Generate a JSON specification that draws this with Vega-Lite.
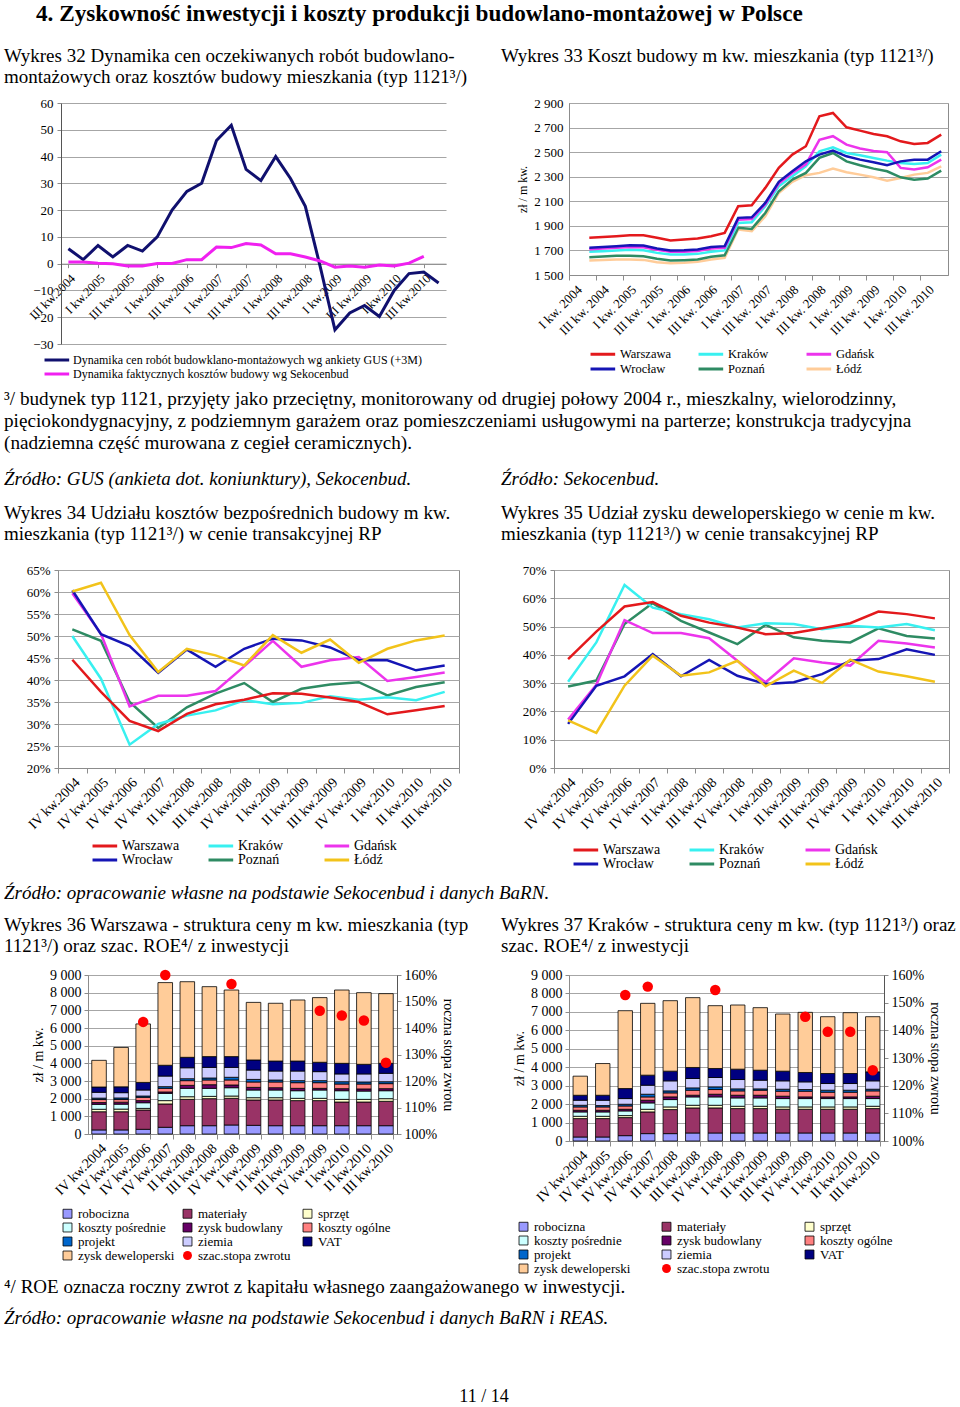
{
"$schema": "https://vega.github.io/schema/vega-lite/v6.json",
"padding": {"left": 3, "top": 2, "right": 5, "bottom": 5},
"background": "white",
"config": {
  "font": "Liberation Serif",
  "view": {"stroke": "#8c8c8c"},
  "axis": {"labelFont": "Liberation Serif", "titleFont": "Liberation Serif", "labelColor": "#000", "titleColor": "#000", "titleFontWeight": "normal", "gridColor": "#a6a6a6", "domainColor": "#8c8c8c", "tickColor": "#8c8c8c", "labelFontSize": 13, "titleFontSize": 13},
  "legend": {"labelFont": "Liberation Serif", "labelColor": "#000", "labelFontSize": 13},
  "title": {"font": "Liberation Serif", "fontSize": 19, "fontWeight": "normal", "color": "#000", "anchor": "start", "frame": "group", "lineHeight": 21, "subtitleFont": "Liberation Serif", "subtitleFontSize": 19, "subtitleColor": "#000", "subtitleLineHeight": 21},
  "text": {"font": "Liberation Serif"}
},
"datasets": {
  "comps": [{"c": "robocizna", "k": 1}, {"c": "materiały", "k": 2}, {"c": "sprzęt", "k": 3}, {"c": "koszty pośrednie", "k": 4}, {"c": "zysk budowlany", "k": 5}, {"c": "koszty ogólne", "k": 6}, {"c": "projekt", "k": 7}, {"c": "ziemia", "k": 8}, {"c": "VAT", "k": 9}, {"c": "zysk deweloperski", "k": 10}],
  "b36": [
    {"q": "IV kw.2004", "robocizna": 230, "materiały": 1030, "sprzęt": 140, "koszty pośrednie": 280, "zysk budowlany": 100, "koszty ogólne": 170, "projekt": 80, "ziemia": 330, "VAT": 300, "zysk deweloperski": 1510},
    {"q": "IV kw.2005", "robocizna": 230, "materiały": 1030, "sprzęt": 150, "koszty pośrednie": 280, "zysk budowlany": 110, "koszty ogólne": 150, "projekt": 90, "ziemia": 300, "VAT": 330, "zysk deweloperski": 2230},
    {"q": "IV kw.2006", "robocizna": 265, "materiały": 1095, "sprzęt": 90, "koszty pośrednie": 320, "zysk budowlany": 120, "koszty ogólne": 185, "projekt": 75, "ziemia": 340, "VAT": 430, "zysk deweloperski": 3310},
    {"q": "IV kw.2007", "robocizna": 380, "materiały": 1320, "sprzęt": 190, "koszty pośrednie": 410, "zysk budowlany": 80, "koszty ogólne": 205, "projekt": 95, "ziemia": 600, "VAT": 610, "zysk deweloperski": 4680},
    {"q": "II kw.2008", "robocizna": 470, "materiały": 1490, "sprzęt": 150, "koszty pośrednie": 475, "zysk budowlany": 170, "koszty ogólne": 265, "projekt": 110, "ziemia": 620, "VAT": 590, "zysk deweloperski": 4280},
    {"q": "III kw.2008", "robocizna": 470, "materiały": 1530, "sprzęt": 130, "koszty pośrednie": 455, "zysk budowlany": 205, "koszty ogólne": 270, "projekt": 110, "ziemia": 600, "VAT": 610, "zysk deweloperski": 3960},
    {"q": "IV kw.2008", "robocizna": 510, "materiały": 1510, "sprzęt": 130, "koszty pośrednie": 470, "zysk budowlany": 155, "koszty ogólne": 285, "projekt": 150, "ziemia": 560, "VAT": 610, "zysk deweloperski": 3770},
    {"q": "I kw.2009", "robocizna": 490, "materiały": 1435, "sprzęt": 130, "koszty pośrednie": 435, "zysk budowlany": 150, "koszty ogólne": 305, "projekt": 145, "ziemia": 530, "VAT": 570, "zysk deweloperski": 3260},
    {"q": "II kw.2009", "robocizna": 470, "materiały": 1455, "sprzęt": 130, "koszty pośrednie": 435, "zysk budowlany": 130, "koszty ogólne": 325, "projekt": 110, "ziemia": 510, "VAT": 565, "zysk deweloperski": 3270},
    {"q": "III kw.2009", "robocizna": 470, "materiały": 1420, "sprzęt": 130, "koszty pośrednie": 430, "zysk budowlany": 135, "koszty ogólne": 320, "projekt": 115, "ziemia": 545, "VAT": 565, "zysk deweloperski": 3455},
    {"q": "IV kw.2009", "robocizna": 470, "materiały": 1420, "sprzęt": 130, "koszty pośrednie": 470, "zysk budowlany": 95, "koszty ogólne": 320, "projekt": 115, "ziemia": 510, "VAT": 530, "zysk deweloperski": 3660},
    {"q": "I kw.2010", "robocizna": 470, "materiały": 1340, "sprzęt": 150, "koszty pośrednie": 490, "zysk budowlany": 115, "koszty ogólne": 265, "projekt": 130, "ziemia": 440, "VAT": 600, "zysk deweloperski": 4150},
    {"q": "II kw.2010", "robocizna": 470, "materiały": 1340, "sprzęt": 150, "koszty pośrednie": 470, "zysk budowlany": 120, "koszty ogólne": 280, "projekt": 115, "ziemia": 455, "VAT": 545, "zysk deweloperski": 4055},
    {"q": "III kw.2010", "robocizna": 470, "materiały": 1380, "sprzęt": 150, "koszty pośrednie": 450, "zysk budowlany": 115, "koszty ogólne": 285, "projekt": 110, "ziemia": 475, "VAT": 565, "zysk deweloperski": 3945}
  ],
  "r36": [
    {"q": "IV kw.2006", "roe": 142.3, "c": "szac.stopa zwrotu"},
    {"q": "IV kw.2007", "roe": 160, "c": "szac.stopa zwrotu"},
    {"q": "IV kw.2008", "roe": 156.6, "c": "szac.stopa zwrotu"},
    {"q": "IV kw.2009", "roe": 146.5, "c": "szac.stopa zwrotu"},
    {"q": "I kw.2010", "roe": 144.7, "c": "szac.stopa zwrotu"},
    {"q": "II kw.2010", "roe": 142.8, "c": "szac.stopa zwrotu"},
    {"q": "III kw.2010", "roe": 126.9, "c": "szac.stopa zwrotu"}
  ],
  "b37": [
    {"q": "IV kw.2004", "robocizna": 217, "materiały": 997, "sprzęt": 126, "koszty pośrednie": 236, "zysk budowlany": 91, "koszty ogólne": 181, "projekt": 90, "ziemia": 272, "VAT": 270, "zysk deweloperski": 1035},
    {"q": "IV kw.2005", "robocizna": 217, "materiały": 997, "sprzęt": 126, "koszty pośrednie": 236, "zysk budowlany": 91, "koszty ogólne": 181, "projekt": 72, "ziemia": 290, "VAT": 270, "zysk deweloperski": 1720},
    {"q": "IV kw.2006", "robocizna": 290, "materiały": 978, "sprzęt": 109, "koszty pośrednie": 253, "zysk budowlany": 90, "koszty ogólne": 180, "projekt": 93, "ziemia": 307, "VAT": 544, "zysk deweloperski": 4221},
    {"q": "IV kw.2007", "robocizna": 400, "materiały": 1176, "sprzęt": 144, "koszty pośrednie": 345, "zysk budowlany": 145, "koszty ogólne": 181, "projekt": 145, "ziemia": 489, "VAT": 544, "zysk deweloperski": 3895},
    {"q": "II kw.2008", "robocizna": 400, "materiały": 1303, "sprzęt": 145, "koszty pośrednie": 398, "zysk budowlany": 145, "koszty ogólne": 218, "projekt": 108, "ziemia": 544, "VAT": 525, "zysk deweloperski": 3822},
    {"q": "III kw.2008", "robocizna": 435, "materiały": 1358, "sprzęt": 145, "koszty pośrednie": 453, "zysk budowlany": 91, "koszty ogólne": 272, "projekt": 126, "ziemia": 508, "VAT": 598, "zysk deweloperski": 3786},
    {"q": "IV kw.2008", "robocizna": 435, "materiały": 1358, "sprzęt": 145, "koszty pośrednie": 453, "zysk budowlany": 145, "koszty ogólne": 254, "projekt": 145, "ziemia": 507, "VAT": 489, "zysk deweloperski": 3406},
    {"q": "I kw.2009", "robocizna": 435, "materiały": 1322, "sprzęt": 127, "koszty pośrednie": 453, "zysk budowlany": 145, "koszty ogólne": 235, "projekt": 109, "ziemia": 507, "VAT": 562, "zysk deweloperski": 3478},
    {"q": "II kw.2009", "robocizna": 435, "materiały": 1322, "sprzęt": 127, "koszty pośrednie": 453, "zysk budowlany": 145, "koszty ogólne": 272, "projekt": 72, "ziemia": 471, "VAT": 543, "zysk deweloperski": 3388},
    {"q": "III kw.2009", "robocizna": 435, "materiały": 1286, "sprzęt": 127, "koszty pośrednie": 452, "zysk budowlany": 128, "koszty ogólne": 272, "projekt": 108, "ziemia": 453, "VAT": 525, "zysk deweloperski": 3098},
    {"q": "IV kw.2009", "robocizna": 435, "materiały": 1286, "sprzęt": 127, "koszty pośrednie": 452, "zysk budowlany": 91, "koszty ogólne": 309, "projekt": 90, "ziemia": 416, "VAT": 508, "zysk deweloperski": 3261},
    {"q": "I kw.2010", "robocizna": 435, "materiały": 1286, "sprzęt": 127, "koszty pośrednie": 452, "zysk budowlany": 91, "koszty ogólne": 254, "projekt": 109, "ziemia": 362, "VAT": 543, "zysk deweloperski": 3080},
    {"q": "II kw.2010", "robocizna": 435, "materiały": 1286, "sprzęt": 127, "koszty pośrednie": 452, "zysk budowlany": 91, "koszty ogólne": 254, "projekt": 109, "ziemia": 362, "VAT": 543, "zysk deweloperski": 3298},
    {"q": "III kw.2010", "robocizna": 435, "materiały": 1322, "sprzęt": 127, "koszty pośrednie": 416, "zysk budowlany": 128, "koszty ogólne": 289, "projekt": 91, "ziemia": 453, "VAT": 489, "zysk deweloperski": 2989}
  ],
  "r37": [
    {"q": "IV kw.2006", "roe": 152.8, "c": "szac.stopa zwrotu"},
    {"q": "IV kw.2007", "roe": 155.8, "c": "szac.stopa zwrotu"},
    {"q": "IV kw.2008", "roe": 154.6, "c": "szac.stopa zwrotu"},
    {"q": "IV kw.2009", "roe": 144.9, "c": "szac.stopa zwrotu"},
    {"q": "I kw.2010", "roe": 139.5, "c": "szac.stopa zwrotu"},
    {"q": "II kw.2010", "roe": 139.5, "c": "szac.stopa zwrotu"},
    {"q": "III kw.2010", "roe": 125.6, "c": "szac.stopa zwrotu"}
  ]
},
"title": {"text": "4.  Zyskowność inwestycji i koszty produkcji budowlano-montażowej w Polsce", "fontSize": 23.2, "fontWeight": "bold", "dx": -22, "offset": 20},
"bounds": "flush",
"spacing": 467,
"resolve": {"scale": {"color": "independent"}},
"vconcat": [
  {
    "bounds": "flush", "spacing": 0,
    "resolve": {"scale": {"color": "independent"}},
    "hconcat": [
      {"width": 3, "height": 1, "view": {"stroke": null}, "data": {"values": [{"a": 1}]}, "mark": {"type": "point", "opacity": 0}, "encoding": {}},
      {
        "width": 385, "height": 241,
        "view": {"stroke": null},
        "title": {"text": ["Wykres 32 Dynamika cen oczekiwanych robót budowlano-", "montażowych oraz kosztów budowy mieszkania (typ 1121³/)"], "dx": -57, "offset": 10},
        "data": {"values": [
          {"q": "III kw.2004", "GUS": 5.6, "Seko": 0.6},
          {"q": "IV kw.2004", "GUS": 1.5, "Seko": 0.6},
          {"q": "I kw.2005", "GUS": 6.8, "Seko": 0.2},
          {"q": "II kw.2005", "GUS": 2.5, "Seko": 0},
          {"q": "III kw.2005", "GUS": 6.8, "Seko": -0.9},
          {"q": "IV kw.2005", "GUS": 4.7, "Seko": -0.9},
          {"q": "I kw.2006", "GUS": 10, "Seko": 0.1},
          {"q": "II kw.2006", "GUS": 20, "Seko": 0.1},
          {"q": "III kw.2006", "GUS": 27, "Seko": 1.5},
          {"q": "IV kw.2006", "GUS": 30, "Seko": 1.5},
          {"q": "I kw.2007", "GUS": 46, "Seko": 6.2},
          {"q": "II kw.2007", "GUS": 51.7, "Seko": 6},
          {"q": "III kw.2007", "GUS": 35.2, "Seko": 7.5},
          {"q": "IV kw.2007", "GUS": 31, "Seko": 7},
          {"q": "I kw.2008", "GUS": 40, "Seko": 3.7},
          {"q": "II kw.2008", "GUS": 31.8, "Seko": 3.7},
          {"q": "III kw.2008", "GUS": 21.4, "Seko": 2.5},
          {"q": "IV kw.2008", "GUS": -1, "Seko": 1.0},
          {"q": "I kw.2009", "GUS": -24.7, "Seko": -1.3},
          {"q": "II kw.2009", "GUS": -18.4, "Seko": -0.9},
          {"q": "III kw.2009", "GUS": -15.6, "Seko": -1.3},
          {"q": "IV kw.2009", "GUS": -19.7, "Seko": -0.5},
          {"q": "I kw.2010", "GUS": -10, "Seko": -0.9},
          {"q": "II kw.2010", "GUS": -3.7, "Seko": 0.2},
          {"q": "III kw.2010", "GUS": -3.1, "Seko": 2.7},
          {"q": "IV kw.2010", "GUS": -7.2}
        ]},
        "transform": [{"fold": ["GUS", "Seko"], "as": ["s", "v"]}],
        "mark": {"type": "line", "strokeWidth": 3},
        "encoding": {
          "x": {"field": "q", "type": "nominal", "sort": null, "scale": {"type": "point", "padding": 0.5},
                "axis": {"title": null, "values": ["III kw.2004", "I kw.2005", "III kw.2005", "I kw.2006", "III kw.2006", "I kw.2007", "III kw.2007", "I kw.2008", "III kw.2008", "I kw.2009", "III kw.2009", "I kw.2010", "III kw.2010"],
                         "labelAngle": -45, "labelAlign": "right", "labelBaseline": "top", "labelFontSize": 12.5, "offset": -80.3, "tickSize": 4, "labelPadding": 4}},
          "y": {"field": "v", "type": "quantitative", "scale": {"domain": [-30, 60], "nice": false, "zero": false},
                "axis": {"title": null, "values": [-30, -20, -10, 0, 10, 20, 30, 40, 50, 60], "tickSize": 4, "labelPadding": 4, "domainColor": "#555"}},
          "color": {"field": "s", "type": "nominal", "scale": {"domain": ["GUS", "Seko"], "range": ["#10106e", "#f020f0"]},
                    "legend": {"orient": "none", "legendX": -18, "legendY": 250, "title": null, "direction": "vertical", "symbolType": "M-1,0H3.5", "symbolSize": 120, "symbolStrokeWidth": 3, "labelFontSize": 12, "labelOffset": 16, "labelLimit": 600, "rowPadding": 1,
                               "labelExpr": "datum.label == 'GUS' ? 'Dynamika cen robót budowklano-montażowych wg ankiety GUS (+3M)' : 'Dynamika faktycznych kosztów budowy wg Sekocenbud'"}}
        }
      },
      {"width": 123, "height": 1, "view": {"stroke": null}, "data": {"values": [{"a": 1}]}, "mark": {"type": "point", "opacity": 0}, "encoding": {}},
      {
        "width": 379, "height": 172,
        "title": {"text": "Wykres 33 Koszt budowy m kw. mieszkania (typ 1121³/)", "dx": -68, "offset": 31},
        "data": {"values": [
          {"q": "II kw. 2004", "Warszawa": 1803, "Kraków": 1689, "Gdańsk": 1710, "Wrocław": 1721, "Poznań": 1645, "Łódź": 1618},
          {"q": "III kw. 2004", "Warszawa": 1810, "Kraków": 1694, "Gdańsk": 1715, "Wrocław": 1727, "Poznań": 1650, "Łódź": 1623},
          {"q": "IV kw. 2004", "Warszawa": 1816, "Kraków": 1700, "Gdańsk": 1722, "Wrocław": 1735, "Poznań": 1656, "Łódź": 1626},
          {"q": "I kw. 2005", "Warszawa": 1824, "Kraków": 1705, "Gdańsk": 1728, "Wrocław": 1743, "Poznań": 1656, "Łódź": 1626},
          {"q": "II kw. 2005", "Warszawa": 1824, "Kraków": 1702, "Gdańsk": 1726, "Wrocław": 1740, "Poznań": 1653, "Łódź": 1623},
          {"q": "III kw. 2005", "Warszawa": 1803, "Kraków": 1680, "Gdańsk": 1705, "Wrocław": 1716, "Poznań": 1632, "Łódź": 1604},
          {"q": "IV kw. 2005", "Warszawa": 1781, "Kraków": 1667, "Gdańsk": 1690, "Wrocław": 1700, "Poznań": 1618, "Łódź": 1596},
          {"q": "I kw. 2006", "Warszawa": 1789, "Kraków": 1667, "Gdańsk": 1690, "Wrocław": 1702, "Poznań": 1621, "Łódź": 1599},
          {"q": "II kw. 2006", "Warszawa": 1797, "Kraków": 1672, "Gdańsk": 1695, "Wrocław": 1708, "Poznań": 1626, "Łódź": 1607},
          {"q": "III kw. 2006", "Warszawa": 1816, "Kraków": 1689, "Gdańsk": 1715, "Wrocław": 1727, "Poznań": 1648, "Łódź": 1626},
          {"q": "IV kw. 2006", "Warszawa": 1843, "Kraków": 1700, "Gdańsk": 1722, "Wrocław": 1735, "Poznań": 1661, "Łódź": 1640},
          {"q": "I kw. 2007", "Warszawa": 2060, "Kraków": 1924, "Gdańsk": 1950, "Wrocław": 1965, "Poznań": 1884, "Łódź": 1870},
          {"q": "II kw. 2007", "Warszawa": 2068, "Kraków": 1930, "Gdańsk": 1955, "Wrocław": 1970, "Poznań": 1875, "Łódź": 1857},
          {"q": "III kw. 2007", "Warszawa": 2209, "Kraków": 2060, "Gdańsk": 2075, "Wrocław": 2087, "Poznań": 2005, "Łódź": 1978},
          {"q": "IV kw. 2007", "Warszawa": 2372, "Kraków": 2222, "Gdańsk": 2245, "Wrocław": 2258, "Poznań": 2182, "Łódź": 2168},
          {"q": "I kw. 2008", "Warszawa": 2480, "Kraków": 2304, "Gdańsk": 2330, "Wrocław": 2344, "Poznań": 2276, "Łódź": 2258},
          {"q": "II kw. 2008", "Warszawa": 2548, "Kraków": 2385, "Gdańsk": 2400, "Wrocław": 2425, "Poznań": 2331, "Łódź": 2312},
          {"q": "III kw. 2008", "Warszawa": 2792, "Kraków": 2507, "Gdańsk": 2600, "Wrocław": 2480, "Poznań": 2453, "Łódź": 2331},
          {"q": "IV kw. 2008", "Warszawa": 2819, "Kraków": 2539, "Gdańsk": 2630, "Wrocław": 2512, "Poznań": 2493, "Łódź": 2366},
          {"q": "I kw. 2009", "Warszawa": 2702, "Kraków": 2493, "Gdańsk": 2561, "Wrocław": 2466, "Poznań": 2425, "Łódź": 2336},
          {"q": "II kw. 2009", "Warszawa": 2675, "Kraków": 2474, "Gdańsk": 2530, "Wrocław": 2439, "Poznań": 2393, "Łódź": 2317},
          {"q": "III kw. 2009", "Warszawa": 2648, "Kraków": 2453, "Gdańsk": 2510, "Wrocław": 2418, "Poznań": 2366, "Łódź": 2295},
          {"q": "IV kw. 2009", "Warszawa": 2629, "Kraków": 2431, "Gdańsk": 2499, "Wrocław": 2393, "Poznań": 2344, "Łódź": 2268},
          {"q": "I kw. 2010", "Warszawa": 2588, "Kraków": 2412, "Gdańsk": 2372, "Wrocław": 2425, "Poznań": 2295, "Łódź": 2290},
          {"q": "II kw. 2010", "Warszawa": 2567, "Kraków": 2404, "Gdańsk": 2358, "Wrocław": 2439, "Poznań": 2276, "Łódź": 2317},
          {"q": "III kw. 2010", "Warszawa": 2575, "Kraków": 2412, "Gdańsk": 2377, "Wrocław": 2439, "Poznań": 2285, "Łódź": 2331},
          {"q": "IV kw. 2010", "Warszawa": 2643, "Kraków": 2480, "Gdańsk": 2439, "Wrocław": 2507, "Poznań": 2350, "Łódź": 2385}
        ]},
        "transform": [{"fold": ["Łódź", "Poznań", "Kraków", "Gdańsk", "Wrocław", "Warszawa"], "as": ["c", "v"]}],
        "mark": {"type": "line", "strokeWidth": 2.5},
        "encoding": {
          "x": {"field": "q", "type": "nominal",
                "scale": {"type": "band", "domain": ["I kw. 2004", "II kw. 2004", "III kw. 2004", "IV kw. 2004", "I kw. 2005", "II kw. 2005", "III kw. 2005", "IV kw. 2005", "I kw. 2006", "II kw. 2006", "III kw. 2006", "IV kw. 2006", "I kw. 2007", "II kw. 2007", "III kw. 2007", "IV kw. 2007", "I kw. 2008", "II kw. 2008", "III kw. 2008", "IV kw. 2008", "I kw. 2009", "II kw. 2009", "III kw. 2009", "IV kw. 2009", "I kw. 2010", "II kw. 2010", "III kw. 2010", "IV kw. 2010"], "paddingInner": 0, "paddingOuter": 0},
                "axis": {"title": null, "values": ["I kw. 2004", "III kw. 2004", "I kw. 2005", "III kw. 2005", "I kw. 2006", "III kw. 2006", "I kw. 2007", "III kw. 2007", "I kw. 2008", "III kw. 2008", "I kw. 2009", "III kw. 2009", "I kw. 2010", "III kw. 2010"],
                         "bandPosition": 0, "labelAngle": -45, "labelAlign": "right", "labelBaseline": "top", "labelFontSize": 13, "tickSize": 5, "labelPadding": 3}},
          "y": {"field": "v", "type": "quantitative", "scale": {"domain": [1500, 2900], "nice": false, "zero": false},
                "axis": {"title": "zł / m kw.", "titleFontSize": 12, "values": [1500, 1700, 1900, 2100, 2300, 2500, 2700, 2900], "labelExpr": "replace(format(datum.value, ','), ',', ' ')", "tickSize": 0, "labelPadding": 6}},
          "color": {"field": "c", "type": "nominal",
                    "scale": {"domain": ["Warszawa", "Kraków", "Gdańsk", "Wrocław", "Poznań", "Łódź"], "range": ["#e3191c", "#38f0f0", "#ec34ec", "#1515b5", "#2e8b63", "#ffcc99"]},
                    "legend": {"orient": "none", "legendX": 20, "legendY": 244, "title": null, "columns": 3, "direction": "horizontal", "symbolType": "M-1,0H3.5", "symbolSize": 120, "symbolStrokeWidth": 3, "labelFontSize": 12.5, "labelOffset": 17, "gridAlign": "all", "columnPadding": 20, "rowPadding": 1}}
        }
      }
    ]
  },
  {
    "bounds": "flush", "spacing": 405,
    "resolve": {"scale": {"color": "independent"}},
    "vconcat": [
      {
        "bounds": "flush", "spacing": 0,
        "resolve": {"scale": {"color": "independent"}},
        "title": {"text": ["³/ budynek typ 1121, przyjęty jako przeciętny, monitorowany od drugiej połowy 2004 r., mieszkalny, wielorodzinny,", "pięciokondygnacyjny, z podziemnym garażem oraz pomieszczeniami usługowymi na parterze; konstrukcja tradycyjna", "(nadziemna część murowana z cegieł ceramicznych)."], "dx": -54, "offset": 16, "fontSize": 19.2, "lineHeight": 22},
        "hconcat": [
          {
            "width": 401, "height": 198,
            "title": {"text": "Źródło: GUS (ankieta dot. koniunktury), Sekocenbud.", "fontStyle": "italic", "subtitle": ["Wykres 34 Udziału kosztów bezpośrednich budowy m kw.", "mieszkania (typ 1121³/) w cenie transakcyjnej RP"], "subtitlePadding": 15, "dx": -54, "offset": 20},
            "data": {"values": [
              {"q": "IV kw.2004", "Warszawa": 44.6, "Kraków": 50.0, "Gdańsk": 59.7, "Wrocław": 60.4, "Poznań": 51.5, "Łódź": 60.1},
              {"q": "IV kw.2005", "Warszawa": 37.3, "Kraków": 40.3, "Gdańsk": 50.5, "Wrocław": 50.4, "Poznań": 48.9, "Łódź": 62.1},
              {"q": "IV kw.2006", "Warszawa": 30.7, "Kraków": 25.3, "Gdańsk": 34.0, "Wrocław": 47.7, "Poznań": 35.0, "Łódź": 50.2},
              {"q": "IV kw.2007", "Warszawa": 28.4, "Kraków": 30.0, "Gdańsk": 36.4, "Wrocław": 41.6, "Poznań": 29.1, "Łódź": 41.8},
              {"q": "II kw.2008", "Warszawa": 32.3, "Kraków": 31.9, "Gdańsk": 36.4, "Wrocław": 46.9, "Poznań": 33.8, "Łódź": 47.1},
              {"q": "III kw.2008", "Warszawa": 34.5, "Kraków": 33.1, "Gdańsk": 37.5, "Wrocław": 43.0, "Poznań": 36.9, "Łódź": 45.6},
              {"q": "IV kw.2008", "Warszawa": 35.5, "Kraków": 35.4, "Gdańsk": 43.1, "Wrocław": 47.1, "Poznań": 39.3, "Łódź": 43.3},
              {"q": "I kw.2009", "Warszawa": 37.0, "Kraków": 34.5, "Gdańsk": 48.9, "Wrocław": 49.4, "Poznań": 35.0, "Łódź": 50.2},
              {"q": "II kw.2009", "Warszawa": 36.9, "Kraków": 34.8, "Gdańsk": 43.0, "Wrocław": 49.0, "Poznań": 38.0, "Łódź": 46.2},
              {"q": "III kw.2009", "Warszawa": 36.0, "Kraków": 36.3, "Gdańsk": 44.5, "Wrocław": 47.4, "Poznań": 39.0, "Łódź": 49.2},
              {"q": "IV kw.2009", "Warszawa": 35.0, "Kraków": 35.5, "Gdańsk": 45.2, "Wrocław": 44.5, "Poznań": 39.5, "Łódź": 43.9},
              {"q": "I kw.2010", "Warszawa": 32.2, "Kraków": 36.1, "Gdańsk": 39.8, "Wrocław": 44.5, "Poznań": 36.5, "Łódź": 47.1},
              {"q": "II kw.2010", "Warszawa": 33.1, "Kraków": 35.4, "Gdańsk": 40.7, "Wrocław": 42.2, "Poznań": 38.4, "Łódź": 49.0},
              {"q": "III kw.2010", "Warszawa": 34.1, "Kraków": 37.3, "Gdańsk": 41.7, "Wrocław": 43.3, "Poznań": 39.5, "Łódź": 50.1}
            ]},
            "transform": [{"fold": ["Poznań", "Kraków", "Warszawa", "Gdańsk", "Wrocław", "Łódź"], "as": ["c", "v"]}],
            "mark": {"type": "line", "strokeWidth": 2.5},
            "encoding": {
              "x": {"field": "q", "type": "nominal",
                    "scale": {"type": "band", "domain": ["IV kw.2004", "IV kw.2005", "IV kw.2006", "IV kw.2007", "II kw.2008", "III kw.2008", "IV kw.2008", "I kw.2009", "II kw.2009", "III kw.2009", "IV kw.2009", "I kw.2010", "II kw.2010", "III kw.2010"], "paddingInner": 0, "paddingOuter": 0},
                    "axis": {"title": null, "tickBand": "extent", "labelAngle": -45, "labelAlign": "right", "labelBaseline": "top", "labelFontSize": 14, "tickSize": 5, "labelPadding": 2}},
              "y": {"field": "v", "type": "quantitative", "scale": {"domain": [20, 65], "nice": false, "zero": false},
                    "axis": {"title": null, "values": [20, 25, 30, 35, 40, 45, 50, 55, 60, 65], "labelExpr": "datum.value + '%'", "tickSize": 4, "labelPadding": 4}},
              "color": {"field": "c", "type": "nominal",
                        "scale": {"domain": ["Warszawa", "Kraków", "Gdańsk", "Wrocław", "Poznań", "Łódź"], "range": ["#e3191c", "#38f0f0", "#ec34ec", "#1515b5", "#2e8b63", "#f2c31a"]},
                        "legend": {"orient": "none", "legendX": 33, "legendY": 269, "title": null, "columns": 3, "direction": "horizontal", "symbolType": "M-1,0H3.5", "symbolSize": 120, "symbolStrokeWidth": 3, "labelFontSize": 14, "labelOffset": 17, "gridAlign": "all", "columnPadding": 22, "rowPadding": 0}}
            }
          },
          {"width": 95, "height": 1, "view": {"stroke": null}, "data": {"values": [{"a": 1}]}, "mark": {"type": "point", "opacity": 0}, "encoding": {}},
          {
            "width": 395, "height": 198,
            "title": {"text": "Źródło: Sekocenbud.", "fontStyle": "italic", "subtitle": ["Wykres 35 Udział zysku deweloperskiego w cenie m kw.", "mieszkania (typ 1121³/) w cenie transakcyjnej RP"], "subtitlePadding": 15, "dx": -53, "offset": 20},
            "data": {"values": [
              {"q": "IV kw.2004", "Warszawa": 38.5, "Kraków": 30.5, "Gdańsk": 17.1, "Wrocław": 15.6, "Poznań": 28.8, "Łódź": 16.8},
              {"q": "IV kw.2005", "Warszawa": 48.2, "Kraków": 44.4, "Gdańsk": 29.4, "Wrocław": 29.1, "Poznań": 30.9, "Łódź": 12.4},
              {"q": "IV kw.2006", "Warszawa": 57.1, "Kraków": 64.7, "Gdańsk": 52.3, "Wrocław": 32.4, "Poznań": 50.9, "Łódź": 29.1},
              {"q": "IV kw.2007", "Warszawa": 58.7, "Kraków": 56.7, "Gdańsk": 47.7, "Wrocław": 40.3, "Poznań": 58.3, "Łódź": 39.7},
              {"q": "II kw.2008", "Warszawa": 53.8, "Kraków": 54.4, "Gdańsk": 47.7, "Wrocław": 32.4, "Poznań": 52.0, "Łódź": 32.6},
              {"q": "III kw.2008", "Warszawa": 51.4, "Kraków": 52.6, "Gdańsk": 45.9, "Wrocław": 38.2, "Poznań": 47.9, "Łódź": 33.8},
              {"q": "IV kw.2008", "Warszawa": 49.7, "Kraków": 49.7, "Gdańsk": 37.9, "Wrocław": 32.6, "Poznań": 43.8, "Łódź": 37.9},
              {"q": "I kw.2009", "Warszawa": 47.3, "Kraków": 51.2, "Gdańsk": 30.3, "Wrocław": 29.7, "Poznań": 50.6, "Łódź": 28.9},
              {"q": "II kw.2009", "Warszawa": 47.7, "Kraków": 50.9, "Gdańsk": 38.8, "Wrocław": 30.3, "Poznań": 46.2, "Łódź": 34.4},
              {"q": "III kw.2009", "Warszawa": 49.4, "Kraków": 49.1, "Gdańsk": 37.3, "Wrocław": 33.2, "Poznań": 45.0, "Łódź": 30.1},
              {"q": "IV kw.2009", "Warszawa": 51.2, "Kraków": 50.3, "Gdańsk": 36.2, "Wrocław": 37.9, "Poznań": 44.4, "Łódź": 38.3},
              {"q": "I kw.2010", "Warszawa": 55.3, "Kraków": 49.7, "Gdańsk": 45.0, "Wrocław": 38.5, "Poznań": 49.4, "Łódź": 34.1},
              {"q": "II kw.2010", "Warszawa": 54.4, "Kraków": 50.9, "Gdańsk": 44.0, "Wrocław": 42.0, "Poznań": 46.7, "Łódź": 32.4},
              {"q": "III kw.2010", "Warszawa": 52.9, "Kraków": 48.7, "Gdańsk": 42.6, "Wrocław": 40.0, "Poznań": 45.8, "Łódź": 30.5}
            ]},
            "transform": [{"fold": ["Poznań", "Gdańsk", "Kraków", "Warszawa", "Wrocław", "Łódź"], "as": ["c", "v"]}],
            "mark": {"type": "line", "strokeWidth": 2.5},
            "encoding": {
              "x": {"field": "q", "type": "nominal",
                    "scale": {"type": "band", "domain": ["IV kw.2004", "IV kw.2005", "IV kw.2006", "IV kw.2007", "II kw.2008", "III kw.2008", "IV kw.2008", "I kw.2009", "II kw.2009", "III kw.2009", "IV kw.2009", "I kw.2010", "II kw.2010", "III kw.2010"], "paddingInner": 0, "paddingOuter": 0},
                    "axis": {"title": null, "tickBand": "extent", "labelAngle": -45, "labelAlign": "right", "labelBaseline": "top", "labelFontSize": 14, "tickSize": 5, "labelPadding": 2}},
              "y": {"field": "v", "type": "quantitative", "scale": {"domain": [0, 70], "nice": false},
                    "axis": {"title": null, "values": [0, 10, 20, 30, 40, 50, 60, 70], "labelExpr": "datum.value + '%'", "tickSize": 4, "labelPadding": 4}},
              "color": {"field": "c", "type": "nominal",
                        "scale": {"domain": ["Warszawa", "Kraków", "Gdańsk", "Wrocław", "Poznań", "Łódź"], "range": ["#e3191c", "#38f0f0", "#ec34ec", "#1515b5", "#2e8b63", "#f2c31a"]},
                        "legend": {"orient": "none", "legendX": 18, "legendY": 273, "title": null, "columns": 3, "direction": "horizontal", "symbolType": "M-1,0H3.5", "symbolSize": 120, "symbolStrokeWidth": 3, "labelFontSize": 14, "labelOffset": 17, "gridAlign": "all", "columnPadding": 22, "rowPadding": 0}}
            }
          }
        ]
      },
      {
        "bounds": "flush", "spacing": 365,
        "resolve": {"scale": {"color": "independent"}},
        "vconcat": [
          {
            "bounds": "flush", "spacing": 0,
            "resolve": {"scale": {"color": "independent"}},
            "hconcat": [
              {"width": 30, "height": 1, "view": {"stroke": null}, "data": {"values": [{"a": 1}]}, "mark": {"type": "point", "opacity": 0}, "encoding": {}},
              {
                "width": 309, "height": 159,
                "title": {"text": "Źródło: opracowanie własne na podstawie Sekocenbud i danych BaRN.", "fontStyle": "italic", "subtitle": ["Wykres 36 Warszawa - struktura ceny m kw. mieszkania (typ", "1121³/) oraz szac. ROE⁴/ z inwestycji"], "subtitlePadding": 13, "dx": -84, "offset": 12},
                "layer": [
                  {
                    "data": {"name": "b36"},
                    "transform": [
                      {"fold": ["robocizna", "materiały", "sprzęt", "koszty pośrednie", "zysk budowlany", "koszty ogólne", "projekt", "ziemia", "VAT", "zysk deweloperski"], "as": ["c", "v"]},
                      {"lookup": "c", "from": {"data": {"name": "comps"}, "key": "c", "fields": ["k"]}}
                    ],
                    "mark": {"type": "bar", "stroke": "#000", "strokeWidth": 0.8},
                    "encoding": {
                      "x": {"field": "q", "type": "nominal",
                            "scale": {"type": "band", "domain": ["IV kw.2004", "IV kw.2005", "IV kw.2006", "IV kw.2007", "II kw.2008", "III kw.2008", "IV kw.2008", "I kw.2009", "II kw.2009", "III kw.2009", "IV kw.2009", "I kw.2010", "II kw.2010", "III kw.2010"], "paddingInner": 0.34, "paddingOuter": 0.17},
                            "axis": {"title": null, "tickBand": "extent", "labelAngle": -45, "labelAlign": "right", "labelBaseline": "top", "labelFontSize": 14, "tickSize": 5, "labelPadding": 2}},
                      "y": {"field": "v", "type": "quantitative", "stack": "zero", "scale": {"domain": [0, 9000], "nice": false},
                            "axis": {"title": "zł / m kw.", "titleFontSize": 14, "values": [0, 1000, 2000, 3000, 4000, 5000, 6000, 7000, 8000, 9000], "labelExpr": "replace(format(datum.value, ','), ',', ' ')", "labelFontSize": 14, "tickSize": 4, "labelPadding": 3}},
                      "color": {"field": "c", "type": "nominal",
                                "scale": {"domain": ["robocizna", "materiały", "sprzęt", "koszty pośrednie", "zysk budowlany", "koszty ogólne", "projekt", "ziemia", "VAT", "zysk deweloperski", "szac.stopa zwrotu"],
                                          "range": ["#9999ff", "#993366", "#ffffcc", "#ccffff", "#660066", "#ff8080", "#0066cc", "#ccccff", "#000080", "#ffcc99", "#ff0000"]},
                                "legend": {"orient": "none", "legendX": -27, "legendY": 232, "title": null, "columns": 3, "direction": "horizontal", "labelFontSize": 13, "symbolSize": 80, "symbolType": "square", "symbolStrokeColor": "#000", "symbolStrokeWidth": 0.8, "gridAlign": "all", "columnPadding": 6, "rowPadding": 0,
                                           "encode": {"symbols": {"update": {"shape": {"signal": "datum.label === 'szac.stopa zwrotu' ? 'circle' : 'square'"}, "strokeWidth": {"signal": "datum.label === 'szac.stopa zwrotu' ? 0 : 0.8"}}}}}},
                      "order": {"field": "k", "type": "quantitative"}
                    }
                  },
                  {
                    "data": {"name": "r36"},
                    "mark": {"type": "point", "filled": true, "size": 110, "opacity": 1},
                    "encoding": {
                      "x": {"field": "q", "type": "nominal"},
                      "y": {"field": "roe", "type": "quantitative", "scale": {"domain": [100, 160], "nice": false, "zero": false},
                            "axis": {"orient": "right", "title": "roczna stopa zwrotu", "titleFontSize": 14, "values": [100, 110, 120, 130, 140, 150, 160], "labelExpr": "datum.value + '%'", "labelFontSize": 14, "grid": false, "domainColor": "#555", "tickSize": 4, "labelPadding": 3}},
                      "color": {"field": "c", "type": "nominal"}
                    }
                  }
                ],
                "resolve": {"scale": {"y": "independent"}}
              },
              {"width": 172, "height": 1, "view": {"stroke": null}, "data": {"values": [{"a": 1}]}, "mark": {"type": "point", "opacity": 0}, "encoding": {}},
              {
                "width": 315, "height": 166,
                "title": {"text": ["Wykres 37 Kraków - struktura ceny m kw. (typ 1121³/) oraz", "szac. ROE⁴/ z inwestycji"], "dx": -68, "offset": 12},
                "layer": [
                  {
                    "data": {"name": "b37"},
                    "transform": [
                      {"fold": ["robocizna", "materiały", "sprzęt", "koszty pośrednie", "zysk budowlany", "koszty ogólne", "projekt", "ziemia", "VAT", "zysk deweloperski"], "as": ["c", "v"]},
                      {"lookup": "c", "from": {"data": {"name": "comps"}, "key": "c", "fields": ["k"]}}
                    ],
                    "mark": {"type": "bar", "stroke": "#000", "strokeWidth": 0.8},
                    "encoding": {
                      "x": {"field": "q", "type": "nominal",
                            "scale": {"type": "band", "domain": ["IV kw.2004", "IV kw.2005", "IV kw.2006", "IV kw.2007", "II kw.2008", "III kw.2008", "IV kw.2008", "I kw.2009", "II kw.2009", "III kw.2009", "IV kw.2009", "I kw.2010", "II kw.2010", "III kw.2010"], "paddingInner": 0.36, "paddingOuter": 0.18},
                            "axis": {"title": null, "tickBand": "extent", "labelAngle": -45, "labelAlign": "right", "labelBaseline": "top", "labelFontSize": 14, "tickSize": 5, "labelPadding": 2}},
                      "y": {"field": "v", "type": "quantitative", "stack": "zero", "scale": {"domain": [0, 9000], "nice": false},
                            "axis": {"title": "zł / m kw.", "titleFontSize": 14, "values": [0, 1000, 2000, 3000, 4000, 5000, 6000, 7000, 8000, 9000], "labelExpr": "replace(format(datum.value, ','), ',', ' ')", "labelFontSize": 14, "tickSize": 4, "labelPadding": 3}},
                      "color": {"field": "c", "type": "nominal",
                                "scale": {"domain": ["robocizna", "materiały", "sprzęt", "koszty pośrednie", "zysk budowlany", "koszty ogólne", "projekt", "ziemia", "VAT", "zysk deweloperski", "szac.stopa zwrotu"],
                                          "range": ["#9999ff", "#993366", "#ffffcc", "#ccffff", "#660066", "#ff8080", "#0066cc", "#ccccff", "#000080", "#ffcc99", "#ff0000"]},
                                "legend": {"orient": "none", "legendX": -52, "legendY": 245, "title": null, "columns": 3, "direction": "horizontal", "labelFontSize": 13, "symbolSize": 80, "symbolType": "square", "symbolStrokeColor": "#000", "symbolStrokeWidth": 0.8, "gridAlign": "all", "columnPadding": 29, "rowPadding": 0,
                                           "encode": {"symbols": {"update": {"shape": {"signal": "datum.label === 'szac.stopa zwrotu' ? 'circle' : 'square'"}, "strokeWidth": {"signal": "datum.label === 'szac.stopa zwrotu' ? 0 : 0.8"}}}}}},
                      "order": {"field": "k", "type": "quantitative"}
                    }
                  },
                  {
                    "data": {"name": "r37"},
                    "mark": {"type": "point", "filled": true, "size": 110, "opacity": 1},
                    "encoding": {
                      "x": {"field": "q", "type": "nominal"},
                      "y": {"field": "roe", "type": "quantitative", "scale": {"domain": [100, 160], "nice": false, "zero": false},
                            "axis": {"orient": "right", "title": "roczna stopa zwrotu", "titleFontSize": 14, "values": [100, 110, 120, 130, 140, 150, 160], "labelExpr": "datum.value + '%'", "labelFontSize": 14, "grid": false, "domainColor": "#555", "tickSize": 4, "labelPadding": 3}},
                      "color": {"field": "c", "type": "nominal"}
                    }
                  }
                ],
                "resolve": {"scale": {"y": "independent"}}
              }
            ]
          },
          {
            "width": 852, "height": 114,
            "view": {"stroke": null},
            "title": {"text": "⁴/ ROE oznacza roczny zwrot z kapitału własnego zaangażowanego w inwestycji.", "subtitle": "Źródło: opracowanie własne na podstawie Sekocenbud i danych BaRN i REAS.", "subtitleFontStyle": "italic", "subtitlePadding": 12, "dx": -54, "offset": 12},
            "data": {"values": [{"t": "11 / 14"}]},
            "mark": {"type": "text", "fontSize": 18},
            "encoding": {"text": {"field": "t", "type": "nominal"}}
          }
        ]
      }
    ]
  }
]
}
